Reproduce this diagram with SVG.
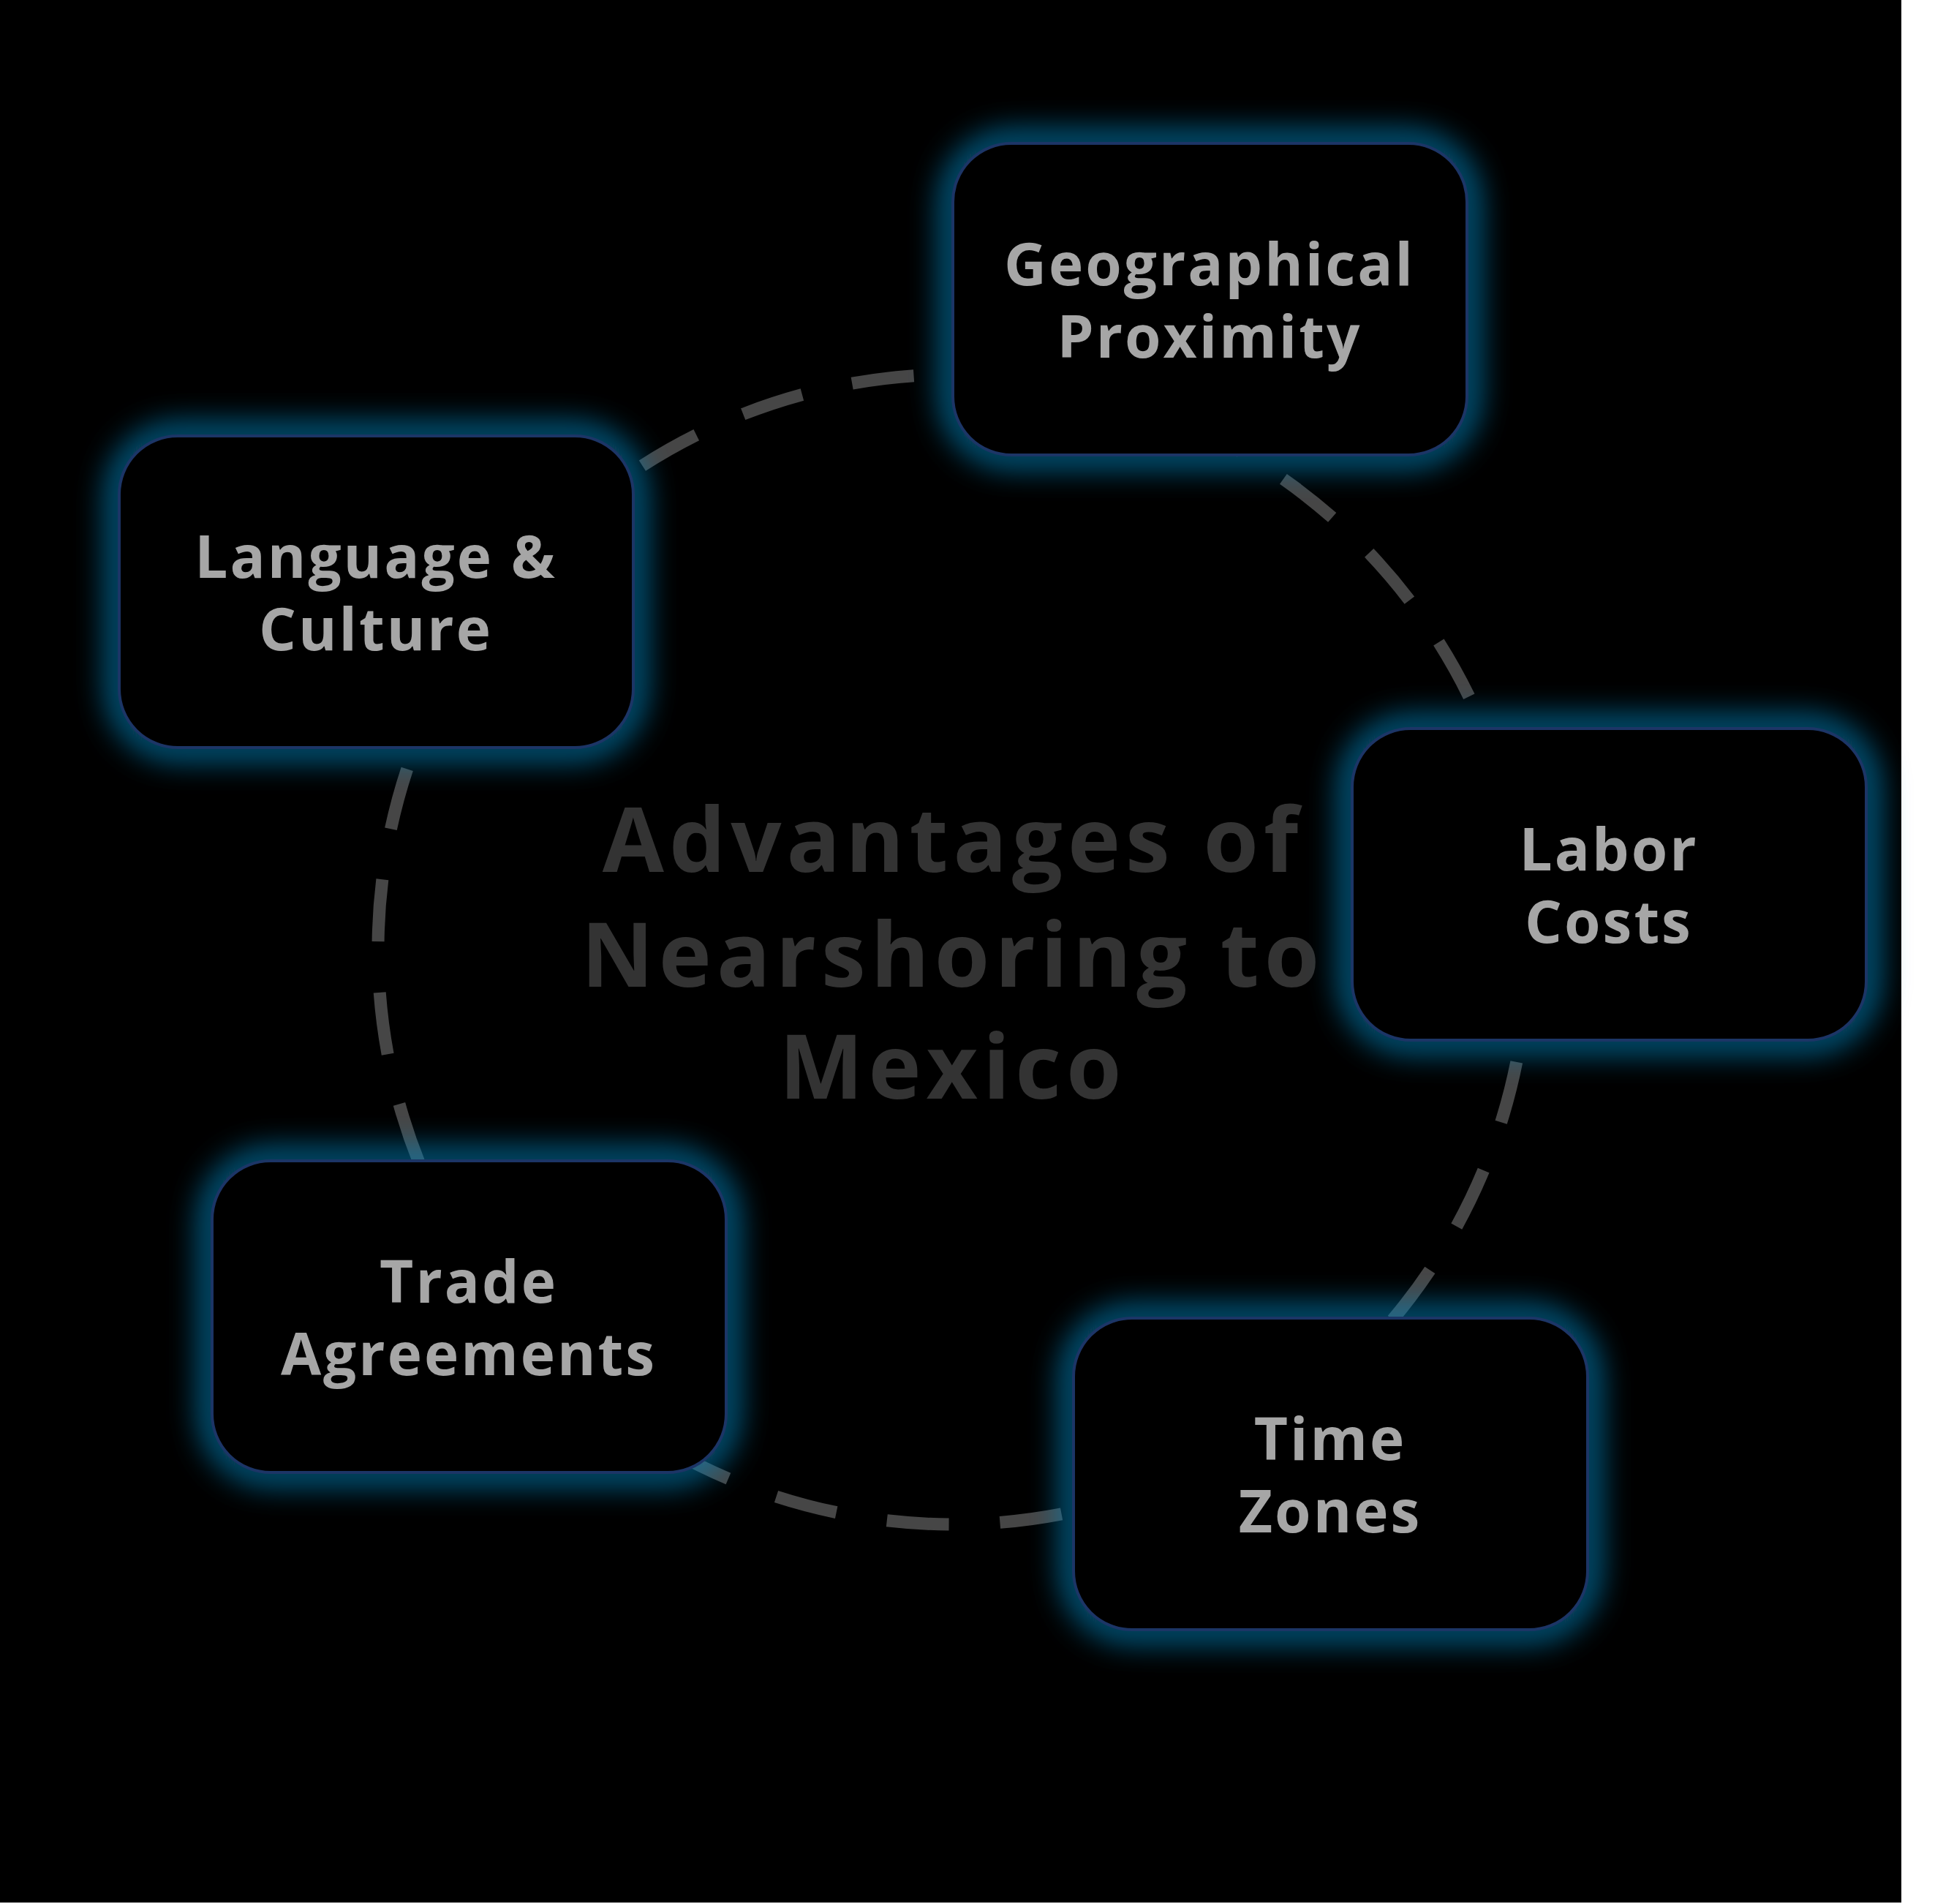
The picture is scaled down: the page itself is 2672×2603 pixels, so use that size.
<svg xmlns="http://www.w3.org/2000/svg" width="2672" height="2603" viewBox="0 0 2672 2603">
<defs>
<filter id="glow" x="-30%" y="-30%" width="160%" height="160%"><feGaussianBlur stdDeviation="22"/></filter>
<style>
.g{fill:none;stroke:#0e86c0;stroke-width:26;filter:url(#glow)}
.b{fill:#000;stroke:#1c3566;stroke-width:4}
.t{font-family:"Open Sans","Liberation Sans",sans-serif;font-weight:700;font-size:80px;letter-spacing:3px;fill:#a6a6a6;text-anchor:middle}
.h{font-family:"Open Sans","Liberation Sans",sans-serif;font-weight:700;font-size:122px;letter-spacing:7px;fill:#333;text-anchor:middle}
</style>
</defs>
<rect x="0" y="0" width="2600" height="2601" fill="#000"/>
<g id="connectors"><circle cx="1303" cy="1298" r="786" fill="none" stroke="#464646" stroke-width="17" stroke-dasharray="85 70"/></g>
<g id="title"><text class="h" x="1303" y="1192">Advantages of</text><text class="h" x="1303" y="1349">Nearshoring to</text><text class="h" x="1303" y="1502">Mexico</text></g>
<g id="geo"><rect class="g" x="1303" y="196" width="703" height="426" rx="80"/><rect class="b" x="1303" y="196" width="703" height="426" rx="80"/><text class="t" x="1654" y="390">Geographical</text><text class="t" x="1654" y="489">Proximity</text></g>
<g id="lang"><rect class="g" x="163" y="596" width="703" height="426" rx="80"/><rect class="b" x="163" y="596" width="703" height="426" rx="80"/><text class="t" x="514" y="790">Language &amp;</text><text class="t" x="514" y="889">Culture</text></g>
<g id="labor"><rect class="g" x="1849" y="996" width="703" height="426" rx="80"/><rect class="b" x="1849" y="996" width="703" height="426" rx="80"/><text class="t" x="2200" y="1190">Labor</text><text class="t" x="2200" y="1289">Costs</text></g>
<g id="trade"><rect class="g" x="290" y="1587" width="703" height="426" rx="80"/><rect class="b" x="290" y="1587" width="703" height="426" rx="80"/><text class="t" x="641" y="1781">Trade</text><text class="t" x="641" y="1880">Agreements</text></g>
<g id="time"><rect class="g" x="1468" y="1802" width="703" height="426" rx="80"/><rect class="b" x="1468" y="1802" width="703" height="426" rx="80"/><text class="t" x="1819" y="1996">Time</text><text class="t" x="1819" y="2095">Zones</text></g>
</svg>
